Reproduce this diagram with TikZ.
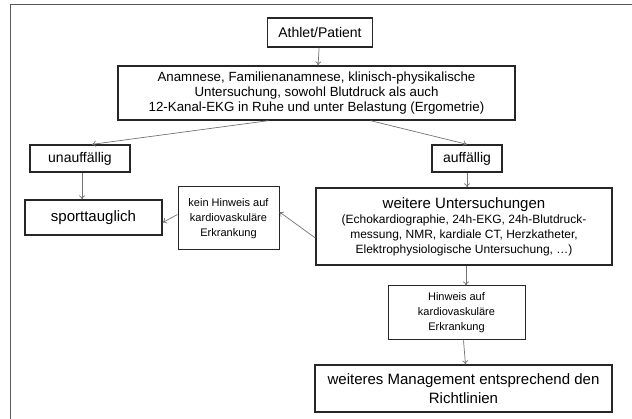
\documentclass[tikz,border=0pt]{standalone}
\usepackage{fontspec}
\setmainfont{Liberation Sans}
\usetikzlibrary{arrows.meta}

\begin{document}
\begin{tikzpicture}[x=1pt,y=-1pt,
  box/.style={draw=black!85,line width=1.3pt,align=center,inner sep=0pt,font=\fontsize{14}{15}\selectfont},
  smallbox/.style={draw=black!85,line width=1pt,align=center,inner sep=0pt,font=\fontsize{11}{15}\selectfont},
  arr/.style={draw=black!55,line width=0.7pt,-{To[length=4pt,width=6pt]}}]
\useasboundingbox (0,0) rectangle (632,419);
\draw[line width=1.5pt,black!65] (10.5,419) -- (10.5,4.5) -- (632,4.5);

\node[box,minimum width=105,minimum height=29] (athlet) at (320,32.5) {Athlet/Patient};
\node[box,minimum width=397,minimum height=54,font=\fontsize{13.3}{15}\selectfont] (anam) at (316.5,93)
  {Anamnese, Familienanamnese, klinisch-physikalische\\
   Untersuchung, sowohl Blutdruck als auch\\
   12-Kanal-EKG in Ruhe und unter Belastung (Ergometrie)};
\node[box,minimum width=100,minimum height=27] (unauff) at (80,158.5) {unauffällig};
\node[box,minimum width=70,minimum height=27] (auff) at (467,158.5) {auffällig};
\node[box,minimum width=137,minimum height=35,font=\fontsize{15}{15}\selectfont] (sport) at (93.5,217.5) {sporttauglich};
\node[smallbox,minimum width=101,minimum height=63] (kein) at (228.5,218.5)
  {kein Hinweis auf\\kardiovaskuläre\\Erkrankung};
\node[box,minimum width=296,minimum height=77] (weitere) at (464,226.5)
  {\fontsize{15}{18}\selectfont weitere Untersuchungen\\
   \fontsize{12}{14.5}\selectfont (Echokardiographie, 24h-EKG, 24h-Blutdruck-\\
   \fontsize{12}{14.5}\selectfont messung, NMR, kardiale CT, Herzkatheter,\\
   \fontsize{12}{14.5}\selectfont Elektrophysiologische Untersuchung, \dots)};
\node[smallbox,minimum width=137,minimum height=54] (hinw) at (456.5,313)
  {Hinweis auf\\kardiovaskuläre\\Erkrankung};
\node[box,minimum width=297,minimum height=47,font=\fontsize{15}{19}\selectfont] (mgmt) at (463.5,388.5)
  {weiteres Management entsprechend den\\Richtlinien};

% connectors
\draw[arr] (athlet) -- (anam);
\draw[arr] ([xshift=-48]anam.south) -- ([xshift=12]unauff.north);
\draw[arr] ([xshift=54]anam.south) -- (auff.north);
\draw[arr] ([xshift=2]unauff.south) -- ([xshift=2]unauff.south |- sport.north);
\draw[arr] (auff.south) -- (auff.south |- weitere.north);
\draw[arr] ([yshift=-11.5]weitere.west) -- ([yshift=6.5]kein.east);
\draw[arr] ([yshift=4]kein.west) -- ([yshift=-5]sport.east);
\draw[arr] ([xshift=2]weitere.south) -- ([xshift=2]weitere.south |- hinw.north);
\draw[arr] (hinw.south -| mgmt.north) -- ([xshift=2]mgmt.north);
\end{tikzpicture}
\end{document}
